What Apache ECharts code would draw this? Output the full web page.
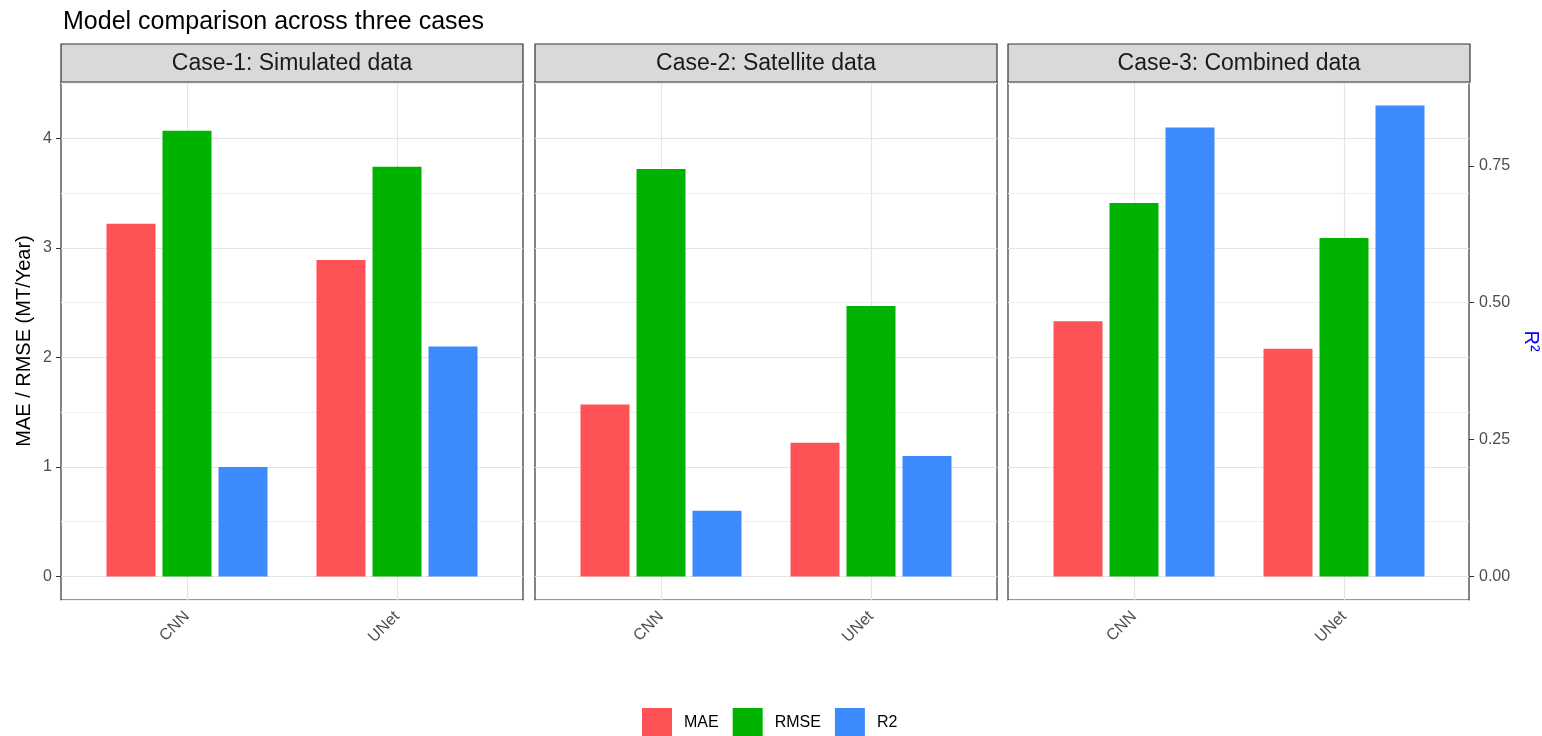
<!DOCTYPE html>
<html>
<head>
<meta charset="utf-8">
<title>Model comparison across three cases</title>
<script src="https://cdn.jsdelivr.net/npm/echarts@6/dist/echarts.min.js"></script>
<style>
  html, body { margin: 0; padding: 0; background: #fff; }
  #chart { width: 1542px; height: 736px; }
</style>
</head>
<body>
<div id="chart"></div>
<script>
// data
const cases = ['Case-1: Simulated data', 'Case-2: Satellite data', 'Case-3: Combined data']
const models = ['CNN', 'UNet']
const metrics = ['MAE', 'RMSE', 'R2']
// one inner array per case, values for [CNN, UNet]
const mae = [[3.22, 2.89], [1.57, 1.22], [2.33, 2.08]]
const rmse = [[4.07, 3.74], [3.72, 2.47], [3.41, 3.09]]
const r2 = [[0.20, 0.42], [0.12, 0.22], [0.82, 0.86]]
const leftTicks = [0, 1, 2, 3, 4]
const rightTicks = [0, 0.25, 0.5, 0.75]

// R2 sits on a secondary axis scaled by 5
const r2Scale = 5
const colors = { MAE: '#ff5257', RMSE: '#00b300', R2: '#3d8aff' }
const font = 'Liberation Sans, Arial, sans-serif'

const panelLeft = [61, 535, 1008]
const panelW = 462
const panelTop = 82
const panelH = 518
const stripTop = 44
const yMin = -0.215
const yMax = 4.515

const chart = echarts.init(document.getElementById('chart'), null, { renderer: 'canvas' })

const grid = []
const xAxis = []
const yAxis = []
const series = []
const graphic = []

cases.forEach((name, p) => {
  const left = panelLeft[p]
  // outer grid: frame + horizontal grid lines
  grid.push({ left: left, top: panelTop, width: panelW, height: panelH, show: true,
    borderColor: '#333', borderWidth: 1.2, backgroundColor: '#fff' })
  // inner grid: bars, category centres at 0.6 / 1.6 of the 2.2-unit range
  const unit = panelW / 2.2
  grid.push({ left: left + unit * 0.1, top: panelTop, width: unit * 2, height: panelH })

  xAxis.push({ type: 'value', gridIndex: 2 * p, min: 0, max: 1, show: false })
  xAxis.push({
    type: 'category', gridIndex: 2 * p + 1, data: models,
    axisLine: { show: false },
    axisTick: { show: true, alignWithLabel: true, length: 5, lineStyle: { color: '#333', width: 1 } },
    axisLabel: { rotate: 45, margin: 14, color: '#4d4d4d', fontSize: 16, fontFamily: font },
    splitLine: { show: false }
  })

  const first = p === 0
  // minor lines
  yAxis.push({
    type: 'value', gridIndex: 2 * p, position: 'left', min: yMin, max: yMax, splitNumber: 10,
    axisLine: { show: false }, axisTick: { show: false }, axisLabel: { show: false },
    splitLine: { show: true, lineStyle: { color: '#efefef', width: 1 } }
  })
  // major lines + left labels
  yAxis.push({
    type: 'value', gridIndex: 2 * p, position: 'left', min: yMin, max: yMax, splitNumber: 5,
    name: first ? 'MAE / RMSE (MT/Year)' : '',
    nameLocation: 'middle', nameGap: 27,
    nameTextStyle: { color: '#000', fontSize: 20, fontFamily: font },
    axisLine: { show: false },
    axisTick: { show: first, length: 5, customValues: leftTicks, lineStyle: { color: '#333' } },
    axisLabel: { show: first, customValues: leftTicks, margin: 9, color: '#4d4d4d', fontSize: 16, fontFamily: font },
    splitLine: { show: true, lineStyle: { color: '#e4e4e4', width: 1.2 } }
  })
  yAxis.push({ type: 'value', gridIndex: 2 * p + 1, position: 'left', min: yMin, max: yMax, show: false, splitLine: { show: false } })
  yAxis.push({ type: 'value', gridIndex: 2 * p + 1, position: 'right', min: yMin / r2Scale, max: yMax / r2Scale, show: false, splitLine: { show: false } })

  const xi = 2 * p + 1
  const yl = 4 * p + 2
  const yr = 4 * p + 3

  // vertical grid lines at the model positions
  series.push({
    type: 'line', xAxisIndex: xi, yAxisIndex: yl, data: [], silent: true, z: 1,
    markLine: {
      silent: true, symbol: ['none', 'none'], z: 1, animation: false,
      label: { show: false },
      lineStyle: { color: '#e4e4e4', width: 1.2, type: 'solid' },
      data: models.map(m => ({ xAxis: m }))
    }
  })

  const values = { MAE: mae[p], RMSE: rmse[p], R2: r2[p] }
  metrics.forEach(m => {
    series.push({
      name: m, type: 'bar', xAxisIndex: xi, yAxisIndex: m === 'R2' ? yr : yl,
      data: values[m], barWidth: unit * 0.7 / 3, barGap: '14.3%', z: 2,
      itemStyle: { color: colors[m] }
    })
  })

  // facet strip
  graphic.push({
    type: 'rect', z: 10,
    shape: { x: left, y: stripTop, width: panelW, height: panelTop - stripTop },
    style: { fill: '#d9d9d9', stroke: '#333', lineWidth: 1.2 }
  })
  graphic.push({
    type: 'text', z: 11, x: left + panelW / 2, y: (stripTop + panelTop) / 2 + 1,
    style: { text: name, fill: '#1a1a1a', fontSize: 23, fontFamily: font, align: 'center', verticalAlign: 'middle' }
  })
})

// secondary axis on the last panel
yAxis.push({
  type: 'value', gridIndex: 4, position: 'right',
  min: yMin / r2Scale, max: yMax / r2Scale,
  name: 'R²', nameLocation: 'middle', nameGap: 52, nameRotate: -90,
  nameTextStyle: { color: '#0000ff', fontSize: 20, fontFamily: font },
  axisLine: { show: false },
  axisTick: { show: true, length: 5, customValues: rightTicks, lineStyle: { color: '#333' } },
  axisLabel: { show: true, customValues: rightTicks, margin: 10, color: '#4d4d4d', fontSize: 16, fontFamily: font,
    formatter: v => v.toFixed(2) },
  splitLine: { show: false }
})

const option = {
  animation: false,
  backgroundColor: '#fff',
  title: {
    text: 'Model comparison across three cases',
    left: 58, top: 5,
    textStyle: { color: '#000', fontSize: 25, fontWeight: 'normal', fontFamily: font }
  },
  legend: {
    data: metrics, icon: 'rect', itemWidth: 30, itemHeight: 30, itemGap: 14,
    left: 642, top: 708, padding: 0,
    textStyle: { color: '#000', fontSize: 16, fontFamily: font, padding: [0, 0, 0, 7] }
  },
  grid, xAxis, yAxis, series, graphic
}
chart.setOption(option)
</script>
</body>
</html>
